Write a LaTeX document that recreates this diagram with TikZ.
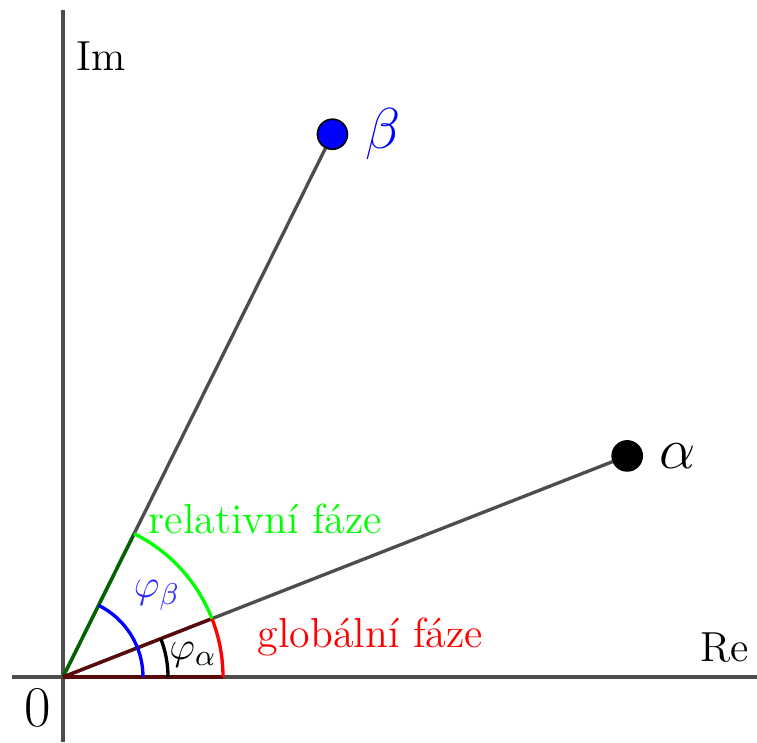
\documentclass[tikz,border=0pt]{standalone}
\usetikzlibrary{positioning}
\definecolor{axisgray}{RGB}{77,77,77}
\definecolor{darkgreen}{RGB}{0,100,0}
\definecolor{maroonline}{RGB}{90,10,10}
\definecolor{betablue}{RGB}{40,40,255}

\begin{document}
\begin{tikzpicture}[x=0.3pt, y=0.3pt,
        axis/.style = {draw=axisgray, line width=1.1pt},
        ray/.style = {draw=axisgray, line width=1pt},
        arcline/.style = {line width=1pt},
        dot/.style = {circle, draw=black, line width=0.5pt, minimum size=9pt, inner sep=0pt},
        lbl/.style = {font=\fontsize{12.6pt}{15pt}\selectfont}
    ]
        \useasboundingbox (-63,-65) rectangle (694,677);

        % Axes
        \coordinate (O) at (0,0);
        \coordinate (reL) at (-51,0);
        \coordinate (reR) at (694,0);
        \coordinate (imB) at (0,-65);
        \coordinate (imT) at (0,667);
        \draw [axis] (reL) -- (reR);
        \draw [axis] (imB) -- (imT);
        \node [lbl, above left=1pt and -1pt of reR] (re) {Re};
        \node [lbl, below right=6pt and 0.5pt of imT] (im) {Im};
        \node [font=\LARGE, below left=0pt and 0pt of O] (zero) {0};

        % Points
        \node [dot, fill=black] (alpha) at (21.4:606) {};
        \node [dot, fill=blue] (beta) at (63.6:606) {};
        \draw [ray] (O) -- (alpha);
        \draw [ray] (O) -- (beta);
        \node [font=\LARGE, right=1.5pt of alpha] (alab) {$\alpha$};
        \node [font=\LARGE, text=blue, right=1.5pt of beta] (blab) {$\beta$};

        % Phases
        \coordinate (ra) at (21.4:160);
        \coordinate (rb) at (63.6:160);
        \coordinate (rx) at (160,0);
        \draw [darkgreen, line width=1pt] (O) -- (rb);
        \draw [maroonline, line width=1pt] (O) -- (ra);
        \draw [maroonline, line width=1pt] (O) -- (rx);
        \draw [arcline, red] (rx) arc[start angle=0, end angle=21.4, radius=160];
        \draw [arcline, green] (ra) arc[start angle=21.4, end angle=63.6, radius=160];
        \draw [arcline, blue] (80,0) arc[start angle=0, end angle=63.6, radius=80];
        \draw [arcline, black] (105,0) arc[start angle=0, end angle=21.4, radius=105];
        \node [lbl] (phia) at (130,22) {$\varphi_\alpha$};
        \node [lbl, text=betablue] (phib) at (94,82) {$\varphi_\beta$};
        \node [lbl, text=green, anchor=west] (rel) at (74,158) {relativní fáze};
        \node [lbl, text=red, anchor=west] (glob) at (183,40) {globální fáze};
    \end{tikzpicture}
\end{document}
